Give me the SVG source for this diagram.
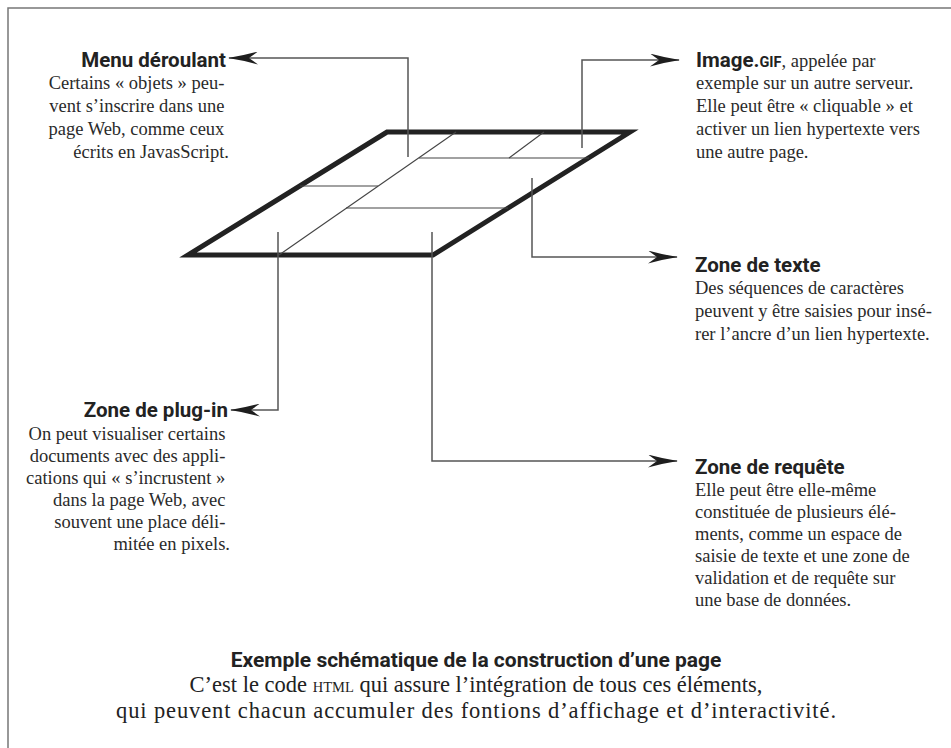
<svg xmlns="http://www.w3.org/2000/svg" width="951" height="748" viewBox="0 0 951 748">
<style>
.frame{fill:none;stroke:#777;stroke-width:1.5}
.page{fill:none;stroke:#222;stroke-width:5;stroke-linejoin:miter}
.inner{fill:none;stroke:#444;stroke-width:1.1}
.conn{fill:none;stroke:#555;stroke-width:1.5}
.h{font-family:Roboto,"DejaVu Sans",sans-serif;font-weight:700;font-size:20.5px;fill:#222}
.b{font-family:"Liberation Serif","Times New Roman",serif;font-size:18.5px;fill:#2a2a2a}
.cap{font-family:Roboto,"DejaVu Sans",sans-serif;font-weight:700;font-size:21px;fill:#222}
.capb{font-family:"Liberation Serif","Times New Roman",serif;font-size:22.5px;fill:#222}
.sc{font-size:14.5px}
</style>
<defs>
<marker id="arr" viewBox="0 0 30 13" refX="29" refY="6.5" markerWidth="30" markerHeight="13" markerUnits="userSpaceOnUse" orient="auto">
<path d="M0,0 Q14,4 30,6.5 Q14,9 0,13 L9,6.5 Z" fill="#1e1e1e"/>
</marker>
</defs>
<rect width="951" height="748" fill="#fff"/>
<path class="frame" d="M8,748 V8 H951"/>

<g id="page">
<polygon class="page" points="387,132 630,132 433,255 188,255"/>
<g class="inner">
<line x1="456" y1="132" x2="279" y2="255"/>
<line x1="419" y1="158" x2="589" y2="158"/>
<line x1="544" y1="132" x2="509" y2="158"/>
<line x1="300" y1="186" x2="378" y2="186"/>
<line x1="346" y1="208" x2="508" y2="208"/>
</g>
</g>

<g id="connectors">
<path class="conn" d="M408,157 V58 H229" marker-end="url(#arr)"/>
<path class="conn" d="M582,148 V60 H679" marker-end="url(#arr)"/>
<path class="conn" d="M532,178 V257 H677" marker-end="url(#arr)"/>
<path class="conn" d="M278,232 V410 H231" marker-end="url(#arr)"/>
<path class="conn" d="M432,232 V461 H677" marker-end="url(#arr)"/>
</g>

<g id="menu">
<text class="h" x="226" y="67" text-anchor="end">Menu déroulant</text>
<text class="b" text-anchor="end">
<tspan x="229" y="89">Certains « objets » peu-</tspan>
<tspan x="229" y="112">vent s’inscrire dans une</tspan>
<tspan x="229" y="135">page Web, comme ceux</tspan>
<tspan x="229" y="158">écrits en JavasScript.</tspan>
</text>
</g>

<g id="image">
<text x="696" y="67"><tspan class="h">Image.</tspan><tspan class="h sc">GIF</tspan><tspan class="b">, appelée par</tspan></text>
<text class="b">
<tspan x="696" y="89">exemple sur un autre serveur.</tspan>
<tspan x="696" y="112">Elle peut être « cliquable » et</tspan>
<tspan x="696" y="135">activer un lien hypertexte vers</tspan>
<tspan x="696" y="158">une autre page.</tspan>
</text>
</g>

<g id="texte">
<text class="h" x="695" y="272">Zone de texte</text>
<text class="b">
<tspan x="695" y="294">Des séquences de caractères</tspan>
<tspan x="695" y="317">peuvent y être saisies pour insé-</tspan>
<tspan x="695" y="340">rer l’ancre d’un lien hypertexte.</tspan>
</text>
</g>

<g id="plugin">
<text class="h" x="228" y="417" text-anchor="end">Zone de plug-in</text>
<text class="b" text-anchor="end">
<tspan x="230" y="440">On peut visualiser certains</tspan>
<tspan x="230" y="462">documents avec des appli-</tspan>
<tspan x="230" y="484">cations qui « s’incrustent »</tspan>
<tspan x="230" y="506">dans la page Web, avec</tspan>
<tspan x="230" y="528">souvent une place déli-</tspan>
<tspan x="230" y="550">mitée en pixels.</tspan>
</text>
</g>

<g id="requete">
<text class="h" x="695" y="474">Zone de requête</text>
<text class="b">
<tspan x="695" y="496">Elle peut être elle-même</tspan>
<tspan x="695" y="518">constituée de plusieurs élé-</tspan>
<tspan x="695" y="540">ments, comme un espace de</tspan>
<tspan x="695" y="562">saisie de texte et une zone de</tspan>
<tspan x="695" y="584">validation et de requête sur</tspan>
<tspan x="695" y="606">une base de données.</tspan>
</text>
</g>

<g id="caption">
<text class="cap" x="476" y="667" text-anchor="middle">Exemple schématique de la construction d’une page</text>
<text class="capb" x="476" y="692" text-anchor="middle">C’est le code <tspan class="sc" font-size="17">HTML</tspan> qui assure l’intégration de tous ces éléments,</text>
<text class="capb" x="476" y="718" text-anchor="middle" textLength="720" lengthAdjust="spacing">qui peuvent chacun accumuler des fontions d’affichage et d’interactivité.</text>
</g>
</svg>
